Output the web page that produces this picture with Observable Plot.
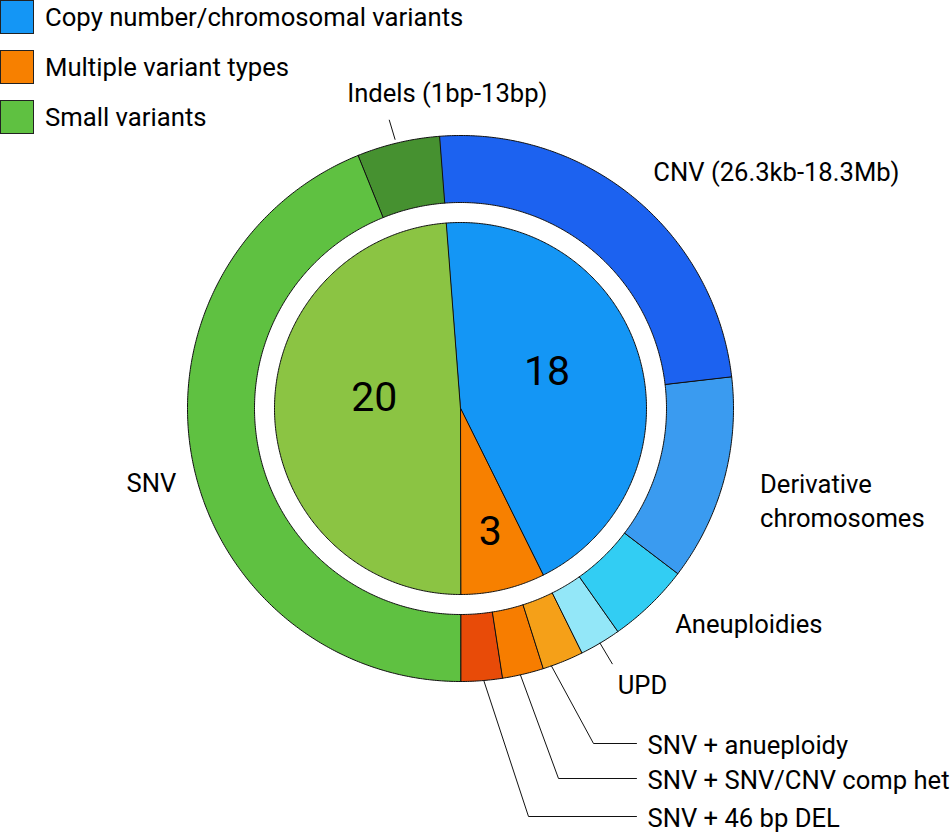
<!DOCTYPE html>
<html>
<head>
<meta charset="utf-8">
<script src="https://cdn.jsdelivr.net/npm/d3@7"></script>
<script src="https://cdn.jsdelivr.net/npm/@observablehq/plot@0.6"></script>
<style>
  body { margin: 0; background: #fff; font-family: Roboto, sans-serif; }
  #wrap { position: relative; width: 951px; height: 837px; }
  #legend { position: absolute; left: 0; top: 0; z-index: 2; }
  .row { position: absolute; left: 0; height: 34px; display: flex; align-items: center; white-space: nowrap; }
  .sw { width: 34px; height: 34px; box-sizing: border-box; border: 1.2px solid #222; }
  .lt { margin-left: 11px; font-size: 25.7px; color: #000; }
</style>
</head>
<body>
<div id="wrap"><div id="legend"></div><div id="chart"></div></div>
<script>
// ---- data ----
const innerCategories = ["Copy number/chromosomal variants", "Multiple variant types", "Small variants"];
const innerValues = [18, 3, 20];
const innerColors = ["#1496f5", "#f78000", "#8bc443"];
const legendColors = ["#1496f5", "#f78000", "#5fc141"];

const outerCategories = ["CNV (26.3kb-18.3Mb)", "Derivative chromosomes", "Aneuploidies", "UPD",
  "SNV + anueploidy", "SNV + SNV/CNV comp het", "SNV + 46 bp DEL", "SNV", "Indels (1bp-13bp)"];
const outerValues = [10, 5, 2, 1, 1, 1, 1, 18, 2];
const outerColors = ["#1c62f0", "#3a9bf0", "#32cdf3", "#93e7f8", "#f5a018", "#f77d00", "#e84b08", "#5fc141", "#469130"];

// ---- layout ----
const W = 951, H = 837, cx = 460, cy = 408;
const rPie = 186, rRing0 = 206, rRing1 = 273;
const startDeg = -4.39;
const rad = Math.PI / 180;
const a0 = startDeg * rad;
const fs = 25.6;
const polar = (r, a) => [cx + r * Math.sin(a), cy - r * Math.cos(a)];

function arcPolygon(name, r0, r1, s, e) {
  const n = Math.max(2, Math.ceil((e - s) / (Math.PI / 360)));
  const outer = d3.range(n + 1).map(i => polar(r1, s + (e - s) * i / n));
  const inner = r0 > 0 ? d3.range(n + 1).map(i => polar(r0, e - (e - s) * i / n)) : [[cx, cy]];
  const ring = [...outer, ...inner, outer[0]];
  return {type: "Feature", properties: {name}, geometry: {type: "Polygon", coordinates: [ring]}};
}

const pie = d3.pie().sort(null).startAngle(a0).endAngle(a0 + 2 * Math.PI);
const innerArcs = pie(innerValues).map((d, i) => ({...d, name: innerCategories[i]}));
const outerArcs = pie(outerValues).map((d, i) => ({...d, name: outerCategories[i]}));

const features = [
  ...outerArcs.map(d => arcPolygon(d.name, rRing0, rRing1, d.startAngle, d.endAngle)),
  ...innerArcs.map(d => arcPolygon(d.name, 0, rPie, d.startAngle, d.endAngle))
];
const mid = d => (d.startAngle + d.endAngle) / 2;

// inner number labels (radius and angle tweak per slice)
const innerLabelPos = [{r: 94, da: -7.6}, {r: 127, da: -0.4}, {r: 87, da: 9.5}];
const innerLabels = innerArcs.map((d, i) => {
  const [x, y] = polar(innerLabelPos[i].r, mid(d) + innerLabelPos[i].da * rad);
  return {x, y, text: String(d.value)};
});

// outer labels
const outerLabelSpec = {
  "CNV (26.3kb-18.3Mb)": {r: 307, da: -0.6, anchor: "start"},
  "Derivative chromosomes": {r: 313, da: 1.5, anchor: "start", text: "Derivative\nchromosomes"},
  "Aneuploidies": {r: 303, da: -1.2, anchor: "start"},
  "UPD": {r: 316, da: 0.9, anchor: "start", leader: [273, 297]},
  "SNV": {r: 294, da: -3.8, anchor: "end"}
};
const outerLabels = [];
const leaders = [];
outerArcs.forEach(d => {
  const s = outerLabelSpec[d.name];
  if (!s) return;
  const [x, y] = polar(s.r, mid(d) + s.da * rad);
  outerLabels.push({x, y, text: s.text || d.name, anchor: s.anchor});
  if (s.leader) leaders.push([polar(s.leader[0], mid(d)), polar(s.leader[1], mid(d))]);
});
// Indels: radial leader, text centered above
{
  const d = outerArcs.find(d => d.name === "Indels (1bp-13bp)");
  const p0 = polar(277, mid(d) - 0.5 * rad), p1 = polar(297, mid(d) - 0.7 * rad);
  leaders.push([p0, p1]);
  outerLabels.push({x: p1[0] + 58, y: p1[1] - 26, text: d.name, anchor: "middle"});
}
// elbow leaders for the combined types
const elbowSpec = {
  "SNV + anueploidy": {ex: 593, ey: 743, da: 2.5},
  "SNV + SNV/CNV comp het": {ex: 558, ey: 778, da: 0.5},
  "SNV + 46 bp DEL": {ex: 528, ey: 816, da: -0.5}
};
const elbowEndX = 636, elbowTextX = 647;
outerArcs.forEach(d => {
  const s = elbowSpec[d.name];
  if (!s) return;
  const p0 = polar(rRing1, mid(d) + s.da * rad);
  leaders.push([p0, [s.ex, s.ey], [elbowEndX, s.ey]]);
  outerLabels.push({x: elbowTextX, y: s.ey, text: d.name, anchor: "start"});
});
const leaderFeatures = leaders.map(c => ({type: "Feature", properties: {}, geometry: {type: "LineString", coordinates: c}}));

const chart = Plot.plot({
  width: W, height: H,
  margin: 0,
  style: {fontFamily: "Roboto, sans-serif", background: "transparent"},
  projection: {type: "identity", domain: {type: "MultiPoint", coordinates: [[0, 0], [W, H]]}},
  color: {domain: [...innerCategories, ...outerCategories], range: [...innerColors, ...outerColors]},
  marks: [
    Plot.geo(features, {fill: d => d.properties.name, stroke: "#111", strokeWidth: 1}),
    Plot.geo(leaderFeatures, {stroke: "#111", strokeWidth: 1, fill: "none"}),
    Plot.text(innerLabels, {x: "x", y: "y", text: "text", fontSize: 41, fill: "#000"}),
    Plot.text(outerLabels.filter(d => d.anchor === "start"), {x: "x", y: "y", text: "text", textAnchor: "start", fontSize: fs, lineHeight: 1.33, fill: "#000"}),
    Plot.text(outerLabels.filter(d => d.anchor === "end"), {x: "x", y: "y", text: "text", textAnchor: "end", fontSize: fs, fill: "#000"}),
    Plot.text(outerLabels.filter(d => d.anchor === "middle"), {x: "x", y: "y", text: "text", textAnchor: "middle", fontSize: fs, fill: "#000"})
  ]
});
document.getElementById("chart").appendChild(chart);

// legend
const legend = document.getElementById("legend");
const legendTops = [0, 50, 100];
innerCategories.forEach((c, i) => {
  const row = document.createElement("div");
  row.className = "row";
  row.style.top = legendTops[i] + "px";
  row.innerHTML = `<div class="sw" style="background:${legendColors[i]}"></div><span class="lt">${c}</span>`;
  legend.appendChild(row);
});
</script>
</body>
</html>
